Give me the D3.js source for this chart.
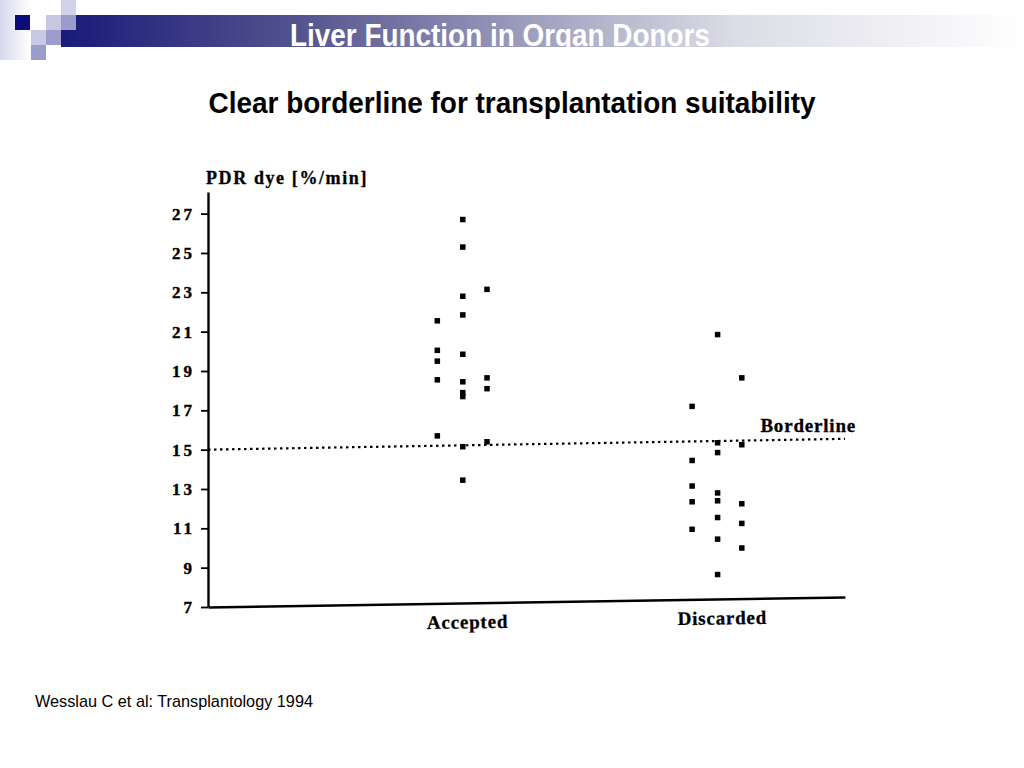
<!DOCTYPE html>
<html>
<head>
<meta charset="utf-8">
<script src="https://cdn.jsdelivr.net/npm/d3@7"></script>
<style>
  body { margin: 0; background: #fff; }
  .scan { font-family: "Liberation Serif", "DejaVu Serif", serif; font-weight: bold; }
  .narrow { font-family: "Liberation Sans Narrow", "Arial Narrow", "Liberation Sans", sans-serif; }
</style>
</head>
<body>
<div id="chart"></div>
<script>
// data
const categories = ['Accepted', 'Discarded'];
const categoryPos = [4, 8];
const columnOffsets = [-0.4, 0, 0.38];

// PDR values, one array per column of dots
const acceptedCols = [
    [21.55, 20.05, 19.5, 18.55, 15.7],
    [26.7, 25.3, 22.8, 21.85, 19.85, 18.45, 17.9, 17.7, 15.15, 13.45],
    [23.15, 18.65, 18.1, 15.4]
];
const discardedCols = [
    [17.2, 14.45, 13.15, 12.35, 10.95],
    [20.85, 15.35, 14.85, 12.8, 12.4, 11.55, 10.45, 8.65],
    [18.65, 15.25, 12.25, 11.25, 10.0]
];

const yTicks = [7, 9, 11, 13, 15, 17, 19, 21, 23, 25, 27];
const borderlineX = [0, 10];
const borderlineY = [15.0, 15.55];

const w = 1024;
const h = 768;

const svg = d3.select('#chart')
    .append('svg')
    .attr('width', w)
    .attr('height', h);

// slide header
const defs = svg.append('defs');
const grad = defs.append('linearGradient')
    .attr('id', 'bar')
    .attr('x1', '0%').attr('x2', '100%');
grad.append('stop').attr('offset', '0%').attr('stop-color', '#1a1a7a');
grad.append('stop').attr('offset', '25%').attr('stop-color', '#54548f');
grad.append('stop').attr('offset', '48%').attr('stop-color', '#9c9cbc');
grad.append('stop').attr('offset', '70%').attr('stop-color', '#dcdce6');
grad.append('stop').attr('offset', '100%').attr('stop-color', '#ffffff');

const side = defs.append('linearGradient')
    .attr('id', 'side')
    .attr('x1', '0%').attr('x2', '100%');
side.append('stop').attr('offset', '0%').attr('stop-color', '#d6d6ec');
side.append('stop').attr('offset', '100%').attr('stop-color', '#ffffff');

svg.append('rect').attr('x', 0).attr('y', 0).attr('width', 30).attr('height', 60).attr('fill', 'url(#side)');
svg.append('rect').attr('x', 61).attr('y', 15).attr('width', w - 61).attr('height', 32).attr('fill', 'url(#bar)');

const squares = [
    [15, 15, '#0c0c78'],
    [46, 15, '#c8c9e0'],
    [61, 15, '#9b9cca'],
    [61, 0, '#d2d3e8'],
    [31, 30, '#c8c9e2'],
    [46, 30, '#9c9dcc'],
    [31, 45, '#9b9cca']
];
svg.selectAll('.sq')
    .data(squares)
    .enter()
    .append('rect')
    .attr('class', 'sq')
    .attr('x', d => d[0])
    .attr('y', d => d[1])
    .attr('width', 15)
    .attr('height', 15)
    .attr('fill', d => d[2]);

svg.append('clipPath').attr('id', 'barclip')
    .append('rect').attr('x', 0).attr('y', 15).attr('width', w).attr('height', 32);

svg.append('text')
    .attr('class', 'narrow')
    .attr('clip-path', 'url(#barclip)')
    .attr('x', 500)
    .attr('y', 46)
    .attr('text-anchor', 'middle')
    .attr('font-size', 31)
    .attr('font-weight', 'bold')
    .attr('fill', '#ffffff')
    .attr('textLength', 420)
    .attr('lengthAdjust', 'spacingAndGlyphs')
    .text('Liver Function in Organ Donors');

svg.append('text')
    .attr('class', 'narrow')
    .attr('x', 512)
    .attr('y', 113)
    .attr('text-anchor', 'middle')
    .attr('font-size', 29)
    .attr('font-weight', 'bold')
    .attr('fill', '#000')
    .attr('textLength', 607)
    .attr('lengthAdjust', 'spacingAndGlyphs')
    .text('Clear borderline for transplantation suitability');

svg.append('text')
    .attr('class', 'narrow')
    .attr('x', 35)
    .attr('y', 707)
    .attr('font-size', 17)
    .attr('fill', '#000')
    .attr('textLength', 278)
    .attr('lengthAdjust', 'spacingAndGlyphs')
    .text('Wesslau C et al: Transplantology 1994');

// Scales
const xScale = d3.scaleLinear()
    .domain([0, 10])
    .range([208, 845]);

const yScale = d3.scaleLinear()
    .domain([7, 28.1])
    .range([607, 192]);

// Axes
const yAxis = d3.axisLeft(yScale)
    .tickValues(yTicks)
    .tickFormat(d3.format('d'))
    .tickSize(7)
    .tickSizeOuter(0)
    .tickPadding(6);

const gy = svg.append('g')
    .attr('transform', `translate(${xScale(0)}, 0)`)
    .call(yAxis);
gy.select('.domain').attr('stroke-width', 2.4);
gy.selectAll('.tick line').attr('stroke-width', 1.8);
gy.selectAll('.tick text')
    .attr('class', 'scan')
    .attr('font-size', 17)
    .attr('letter-spacing', 3)
    .attr('stroke', '#000')
    .attr('stroke-width', 0.4)
    .attr('fill', '#000');

const xAxis = d3.axisBottom(xScale)
    .tickValues(categoryPos)
    .tickFormat((d, i) => categories[i])
    .tickSize(0)
    .tickSizeOuter(0)
    .tickPadding(12);

const gx = svg.append('g')
    .attr('transform', `translate(0, ${yScale(7)}) rotate(-0.9, ${xScale(0)}, 0)`)
    .call(xAxis);
gx.select('.domain').attr('stroke-width', 2.4);
gx.selectAll('.tick text')
    .attr('class', 'scan')
    .attr('font-size', 19)
    .attr('dx', 4)
    .attr('letter-spacing', 0.8)
    .attr('stroke', '#000')
    .attr('stroke-width', 0.3)
    .attr('fill', '#000');

// y axis title
svg.append('text')
    .attr('class', 'scan')
    .attr('x', xScale(0) - 2)
    .attr('y', 184)
    .attr('font-size', 18)
    .attr('letter-spacing', 1.6)
    .attr('stroke', '#000')
    .attr('stroke-width', 0.3)
    .attr('fill', '#000')
    .text('PDR dye [%/min]');

// borderline
const line = d3.line()
    .x(d => xScale(d[0]))
    .y(d => yScale(d[1]));

svg.append('path')
    .datum(d3.zip(borderlineX, borderlineY))
    .attr('d', line)
    .attr('fill', 'none')
    .attr('stroke', '#000')
    .attr('stroke-width', 2.2)
    .attr('stroke-dasharray', '2.5,3.5');

svg.append('text')
    .attr('class', 'scan')
    .attr('x', xScale(10) + 11)
    .attr('y', yScale(borderlineY[1]) - 7)
    .attr('text-anchor', 'end')
    .attr('font-size', 19)
    .attr('letter-spacing', 0.8)
    .attr('stroke', '#000')
    .attr('stroke-width', 0.3)
    .attr('fill', '#000')
    .text('Borderline');

// dots
const points = [];
[acceptedCols, discardedCols].forEach((cols, g) => {
    cols.forEach((vals, c) => {
        vals.forEach(v => points.push({ x: categoryPos[g] + columnOffsets[c], v: v }));
    });
});

const size = 5.5;
svg.selectAll('.dot')
    .data(points)
    .enter()
    .append('rect')
    .attr('class', 'dot')
    .attr('x', d => xScale(d.x) - size / 2)
    .attr('y', d => yScale(d.v) - size / 2)
    .attr('width', size)
    .attr('height', size)
    .attr('fill', '#000');
</script>
</body>
</html>
